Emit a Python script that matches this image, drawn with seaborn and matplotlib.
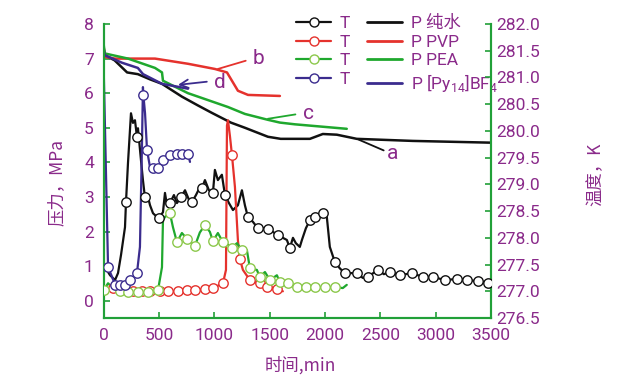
import numpy as np
import pandas as pd
import matplotlib
matplotlib.use("Agg")
import matplotlib.pyplot as plt
import seaborn as sns
from matplotlib.lines import Line2D

# pressure curves (time in min, pressure in MPa)
p_water_t = [0, 10, 100, 213, 310, 420, 528, 708, 850, 979, 1150, 1277, 1485, 1600, 1730, 1864, 1981, 2107, 2287, 2793, 3490]
p_water = [7.35, 7.1, 6.95, 6.6, 6.55, 6.4, 6.27, 5.9, 5.65, 5.43, 5.15, 5.0, 4.74, 4.68, 4.68, 4.68, 4.82, 4.8, 4.68, 4.62, 4.57]
p_pvp_t = [0, 10, 104, 465, 763, 1006, 1115, 1214, 1305, 1593]
p_pvp = [7.4, 7.05, 7.0, 7.0, 6.85, 6.7, 6.6, 6.07, 5.95, 5.92]
p_pea_t = [0, 10, 221, 465, 528, 537, 763, 1124, 1277, 1485, 1593, 1728, 2197]
p_pea = [7.45, 7.15, 7.0, 6.73, 6.6, 6.36, 6.0, 5.6, 5.4, 5.23, 5.15, 5.1, 4.97]
p_il_t = [0, 10, 167, 310, 357, 528, 646, 763]
p_il = [7.3, 7.1, 6.88, 6.73, 6.55, 6.27, 6.2, 6.13]

# temperature curves (time in min, T in K, circle flag)
t_water_t = [14, 59, 104, 131, 158, 194, 203, 221, 248, 266, 284, 302, 311, 338, 356, 374, 402, 420, 447, 483,
             501, 537, 555, 573, 600, 636, 663, 699, 736, 772, 799, 835, 871, 889, 916, 952, 988, 1006, 1033, 1069,
             1097, 1133, 1169, 1214, 1250, 1277, 1304, 1349, 1394, 1440, 1485, 1530, 1575, 1620, 1656, 1683, 1711,
             1737, 1773, 1792, 1828, 1864, 1909, 1954, 1981, 2017, 2044, 2089, 2134, 2179, 2234, 2288, 2342, 2387,
             2478, 2532, 2586, 2676, 2784, 2883, 2974, 3082, 3190, 3281, 3380, 3470]
t_water = [277.45, 277.30, 277.21, 277.34, 277.68, 278.20, 278.67, 279.40, 280.33, 280.15, 280.20, 279.89, 280.05,
           279.46, 279.08, 278.76, 278.76, 278.61, 278.46, 278.39, 278.37, 278.48, 278.84, 278.61, 278.65, 278.80,
           278.65, 278.76, 278.89, 278.71, 278.67, 278.80, 278.95, 278.93, 279.08, 278.89, 278.84, 279.27, 279.08,
           279.18, 278.80, 278.65, 278.52, 278.61, 278.89, 278.61, 278.39, 278.30, 278.18, 278.18, 278.16, 278.11,
           278.05, 278.00, 277.96, 277.81, 278.00, 277.90, 277.83, 277.96, 278.18, 278.33, 278.39, 278.45, 278.46,
           278.39, 277.83, 277.55, 277.43, 277.34, 277.34, 277.34, 277.25, 277.27, 277.40, 277.32, 277.36, 277.30,
           277.34, 277.27, 277.27, 277.21, 277.23, 277.21, 277.19, 277.15]
t_water_o = [0, 0, 0, 0, 0, 0, 1, 0, 0, 0, 0, 1, 0, 0, 0, 1, 0, 0, 0, 0, 1, 0, 0, 0, 1, 0, 0, 1, 0, 0, 1, 0, 0, 1,
             0, 0, 1, 0, 0, 0, 1, 0, 0, 0, 0, 0, 1, 0, 1, 0, 1, 0, 1, 0, 0, 1, 0, 0, 0, 0, 0, 1, 1, 0, 1, 0, 0, 1,
             0, 1, 0, 1, 0, 1, 1, 0, 1, 1, 1, 1, 1, 1, 1, 1, 1, 1]

t_pvp_t = [32, 86, 176, 266, 347, 420, 510, 582, 672, 754, 826, 916, 988, 1079, 1106, 1115, 1124, 1142, 1160, 1187,
           1214, 1232, 1259, 1322, 1367, 1412, 1476, 1521, 1566, 1620]
t_pvp = [276.99, 277.06, 277.04, 277.00, 277.00, 277.00, 277.00, 277.00, 277.00, 277.02, 277.02, 277.04, 277.06,
         277.15, 277.40, 280.10, 280.20, 279.90, 279.55, 278.95, 277.95, 277.60, 277.40, 277.21, 277.17, 277.15,
         277.08, 277.06, 277.04, 277.00]
t_pvp_o = [0, 1, 1, 1, 1, 1, 1, 1, 1, 1, 1, 1, 1, 1, 0, 0, 0, 0, 1, 0, 0, 1, 0, 1, 0, 1, 1, 0, 1, 0]

t_pea_t = [0, 41, 104, 149, 221, 311, 402, 492, 528, 537, 555, 600, 627, 663, 708, 754, 826, 870, 916, 961, 988,
           1033, 1078, 1124, 1160, 1205, 1250, 1295, 1322, 1385, 1412, 1458, 1503, 1566, 1593, 1665, 1747, 1828,
           1909, 1999, 2089, 2161, 2197]
t_pea = [277.02, 277.15, 277.02, 277.00, 276.99, 276.99, 276.99, 277.02, 277.45, 278.33, 278.39, 278.46, 278.20,
         277.92, 278.09, 277.98, 277.85, 278.10, 278.24, 278.11, 277.94, 278.09, 277.92, 277.87, 277.81, 277.90,
         277.77, 277.77, 277.43, 277.40, 277.27, 277.36, 277.21, 277.30, 277.17, 277.15, 277.08, 277.08, 277.08,
         277.08, 277.08, 277.06, 277.12]
t_pea_o = [1, 0, 0, 1, 1, 1, 1, 1, 0, 0, 0, 1, 0, 1, 0, 1, 1, 0, 1, 0, 1, 0, 1, 0, 1, 0, 1, 0, 1, 0, 1, 0, 1, 0,
           1, 1, 1, 1, 1, 1, 1, 0, 0]

t_il_t = [0, 41, 77, 104, 149, 194, 239, 302, 329, 347, 356, 360, 375, 393, 420, 447, 492, 537, 600, 663, 708, 763, 781]
t_il = [281.30, 277.45, 277.27, 277.12, 277.12, 277.12, 277.21, 277.34, 277.83, 279.70, 280.82, 280.67, 280.33,
        279.64, 279.32, 279.31, 279.31, 279.46, 279.55, 279.57, 279.57, 279.57, 279.42]
t_il_o = [0, 1, 0, 1, 1, 1, 1, 1, 0, 0, 0, 1, 0, 1, 0, 1, 1, 1, 1, 1, 1, 1, 0]

names = ["P 纯水", "P PVP", "P PEA", "P [Py$_{14}$]BF$_4$"]
purple = "#8a2a8a"
axis_green = "#21a038"
c_black, c_red, c_green, c_blue = "#111111", "#e5322d", "#1fa82e", "#3b2c8e"
circ_green = "#8cc84b"

sns.set_theme(style="white")
fonts = ["Roboto", "Noto Sans CJK SC", "DejaVu Sans"]
plt.rcParams["font.family"] = fonts
plt.rcParams["mathtext.fontset"] = "custom"
plt.rcParams["mathtext.rm"] = "Roboto"

fig = plt.figure(figsize=(6.24, 3.78), dpi=100)
ax = fig.add_axes([0.1659, 0.1587, 0.621, 0.7778])
ax2 = ax.twinx()

for x, y, c in [(p_water_t, p_water, c_black), (p_pvp_t, p_pvp, c_red),
                (p_pea_t, p_pea, c_green), (p_il_t, p_il, c_blue)]:
    sns.lineplot(x=x, y=y, ax=ax, color=c, lw=1.8, sort=False, estimator=None)

for x, y, o, c, fc in [(t_water_t, t_water, t_water_o, c_black, c_black),
                       (t_pvp_t, t_pvp, t_pvp_o, c_red, c_red),
                       (t_pea_t, t_pea, t_pea_o, c_green, circ_green),
                       (t_il_t, t_il, t_il_o, c_blue, c_blue)]:
    df = pd.DataFrame({"x": x, "y": y, "o": o})
    sns.lineplot(data=df, x="x", y="y", ax=ax2, color=c, lw=1.6, sort=False, estimator=None)
    m = df[df.o == 1]
    ax2.scatter(m.x, m.y, s=46, facecolor="white", edgecolor=fc, linewidth=1.0, zorder=3)

ax.set_xlim(0, 3500)
ax.set_ylim(-0.5, 8)
ax2.set_ylim(276.5, 282.0)
ax.set_xticks(np.arange(0, 3501, 500))
ax.set_yticks(np.arange(0, 9, 1))
ax2.set_yticks(np.arange(276.5, 282.01, 0.5))
ax2.set_yticklabels([f"{v:.1f}" for v in np.arange(276.5, 282.01, 0.5)])

for a in (ax, ax2):
    a.spines["top"].set_visible(False)
    for s in ("left", "right", "bottom"):
        a.spines[s].set_color(axis_green)
        a.spines[s].set_linewidth(1.5)
    a.tick_params(direction="in", length=4, width=1.2, color=axis_green,
                  labelcolor=purple, labelsize=12.5)
    a.set_xlabel("")
    a.set_ylabel("")
ax.tick_params(axis="y", pad=7, left=True)
ax.tick_params(axis="x", pad=7, bottom=True)
ax2.tick_params(axis="y", pad=4, right=True)

cjk = ["Noto Sans CJK SC", "DejaVu Sans"]
ax.text(-0.12, 0.46, "压力，MPa", transform=ax.transAxes, rotation=90, ha="center", va="center",
        color=purple, fontsize=12.5, family=cjk)
ax.text(1.27, 0.49, "温度，K", transform=ax.transAxes, rotation=90, ha="center", va="center",
        color=purple, fontsize=12.5, family=cjk)
ax.text(0.507, -0.16, "时间,min", transform=ax.transAxes, ha="center", va="center",
        color=purple, fontsize=12.5, family=cjk)

# curve labels
ann = dict(color=purple, fontsize=15, va="center", ha="left")
ax.annotate("a", xy=(2288, 4.68), xytext=(2560, 4.25), arrowprops=dict(arrowstyle="-", color=c_black, lw=1.3,
            shrinkA=0, shrinkB=0, relpos=(0, 0.6)), **ann)
ax.annotate("b", xy=(1033, 6.7), xytext=(1350, 7.0), arrowprops=dict(arrowstyle="-", color=c_red, lw=1.3,
            shrinkA=3, shrinkB=0, relpos=(0, 0.5)), **ann)
ax.annotate("c", xy=(1485, 5.26), xytext=(1800, 5.42), arrowprops=dict(arrowstyle="-", color=c_green, lw=1.3,
            shrinkA=3, shrinkB=0, relpos=(0, 0.5)), **ann)
ax.annotate("d", xy=(672, 6.24), xytext=(1000, 6.3), arrowprops=dict(arrowstyle="->", color=c_blue, lw=1.3,
            shrinkA=3, shrinkB=0, relpos=(0, 0.6)), **ann)

handles = []
for c, fc in [(c_black, c_black), (c_red, c_red), (c_green, circ_green), (c_blue, c_blue)]:
    handles.append(Line2D([], [], color=c, lw=1.6, marker="o", markersize=6.5,
                          markerfacecolor="white", markeredgecolor=fc))
for c in (c_black, c_red, c_green, c_blue):
    handles.append(Line2D([], [], color=c, lw=2))
labels = ["T"] * 4 + names
leg = ax.legend(handles, labels, ncol=2, frameon=False, loc="upper left",
                bbox_to_anchor=(0.475, 1.06), fontsize=12.5, handlelength=2.0,
                handletextpad=0.5, columnspacing=1.0, labelspacing=0.2, borderpad=0)
for t in leg.get_texts():
    t.set_color(purple)
    t.set_family(fonts)

fig.savefig("out.png", dpi=100)
